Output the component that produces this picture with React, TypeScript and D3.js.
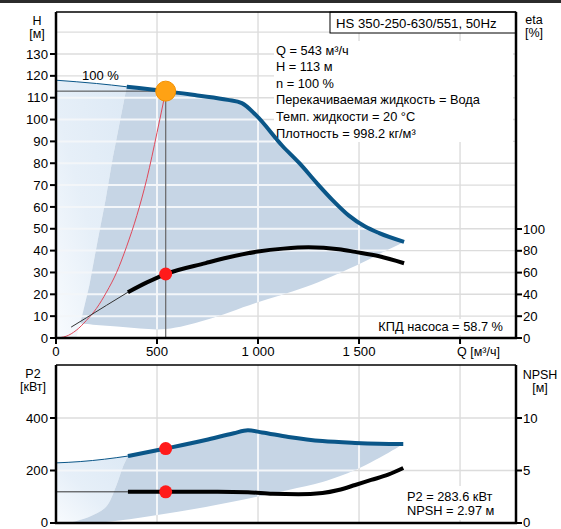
import React from "react";
import * as d3 from "d3";

// ---------- data ----------
// Head curve H(Q)
const hQ = [0, 100, 200, 350, 543, 700, 850, 920, 990, 1120, 1205, 1290, 1370, 1450, 1530, 1600, 1723];
const hH = [118, 117.3, 116.5, 115, 113, 111, 109, 107.5, 102, 88, 80, 71, 63, 56, 51, 48, 44];
// Efficiency eta(Q)
const eQ = [75, 150, 250, 356, 450, 543, 741, 850, 1000, 1125, 1250, 1400, 1481, 1600, 1723];
const eV = [10, 18.5, 30, 42, 51, 58.7, 68.7, 73.8, 79.3, 82, 83.3, 81.5, 79, 75, 68.6];
// System curve
const sQ = [0, 50, 100, 150, 200, 250, 300, 350, 400, 450, 500, 543];
const sH = [0, 0.8, 3.5, 8, 13.5, 21, 30, 42, 56, 73, 94, 113];
// Power P2(Q)
const pQ = [0, 120, 240, 356, 543, 741, 880, 950, 1020, 1151, 1319, 1481, 1600, 1719];
const pV = [229, 234, 243, 255, 283.6, 316, 342, 353, 345, 328, 312, 305, 302, 301];
// NPSH(Q)
const nQ = [0, 356, 543, 800, 950, 1072, 1200, 1319, 1398, 1481, 1560, 1644, 1719];
const nV = [2.97, 2.97, 2.97, 2.97, 2.93, 2.78, 2.74, 2.86, 3.14, 3.62, 4.1, 4.6, 5.24];

// operating-range envelope (top chart)
const topBottomEdge = [[1723, 44], [1644, 40.5], [1481, 33], [1235, 23.3], [988, 16], [741, 8.2], [543, 4.1], [331, 5], [120, 6.6]];
const topLeftEdge = [[120, 6.6], [165, 24], [205, 44], [245, 63], [280, 82], [350, 115]];
// operating-range envelope (bottom chart)
const botRightEdge = [[1719, 301], [1644, 267], [1580, 240], [1481, 202], [1319, 156], [1151, 126], [988, 99], [741, 61], [494, 30], [247, 4], [133, 0]];
const botLeftEdge = [[64, 0], [163, 23], [247, 61], [296, 137], [331, 213], [356, 255]];

const opQ = 543, opH = 113, opEta = 58.7, opP2 = 283.6, opNPSH = 2.97;
const thickStartQ = 350;

const hTicks = [0, 10, 20, 30, 40, 50, 60, 70, 80, 90, 100, 110, 120, 130];
const hGrid = [10, 20, 30, 40, 50, 60, 70, 80, 90, 100, 110, 120, 130, 140];
const etaTicks = [0, 20, 40, 60, 80, 100];
const qTicks = [0, 500, 1000, 1500];
const qTickLabels = ["0", "500", "1 000", "1 500"];
const qGrid = [500, 1000, 1500, 2000];
const pTicks = [0, 200, 400];
const nTicks = [0, 5, 10];

const infoLines = [
  "Q = 543 м³/ч",
  "H = 113 м",
  "n = 100 %",
  "Перекачиваемая жидкость = Вода",
  "Темп. жидкости = 20 °C",
  "Плотность = 998.2 кг/м³",
];

const zip = (a: number[], b: number[]) => a.map((q, i) => [q, b[i]] as [number, number]);

export default function App() {
  const font = "'Liberation Sans', Arial, sans-serif";
  const x = d3.scaleLinear().domain([0, 2277]).range([56, 516]);
  const yH = d3.scaleLinear().domain([0, 130]).range([338, 54]);
  const yE = d3.scaleLinear().domain([0, 100]).range([338, 229]);
  const yP = d3.scaleLinear().domain([0, 400]).range([523, 418]);
  const yN = d3.scaleLinear().domain([0, 10]).range([523, 418]);
  const topY = 12, botTop = 365;
  const L = 56, R = 516, B1 = 338, B2 = 523;

  const mk = (ys: any, curve: any = d3.curveMonotoneX) =>
    d3.line<any>().x((d) => x(d[0])).y((d) => ys(d[1])).curve(curve);

  const hPts = zip(hQ, hH);
  const ePts = zip(eQ, eV);
  const sPts = zip(sQ, sH);
  const pPts = zip(pQ, pV);
  const nPts = zip(nQ, nV);
  const thin = (p: any[], s: number) => p.filter((d) => d[0] <= s);
  const thick = (p: any[], s: number) => p.filter((d) => d[0] >= s);

  const lineH = mk(yH);
  const lineE = mk(yE);
  const lineP = mk(yP);
  const lineN = mk(yN);
  const cr = d3.curveCatmullRom.alpha(0.5);

  const darkTop =
    (lineH(thick(hPts, thickStartQ)) as string) +
    (mk(yH, cr)(topBottomEdge) as string).replace(/^M/, "L") +
    (mk(yH, d3.curveLinear)(topLeftEdge) as string).replace(/^M/, "L") +
    "Z";
  const lightTop =
    (lineH(thin(hPts, thickStartQ)) as string) +
    (mk(yH, d3.curveLinear)([...topLeftEdge].reverse().concat([[100, 0], [0, 0]])) as string).replace(/^M/, "L") +
    "Z";
  const darkBot =
    (lineP(thick(pPts, 356)) as string) +
    (mk(yP, cr)(botRightEdge) as string).replace(/^M/, "L") +
    (mk(yP, cr)(botLeftEdge) as string).replace(/^M/, "L") +
    "Z";
  const lightBot =
    (lineP(thin(pPts, 356)) as string) +
    (mk(yP, cr)([...botLeftEdge].reverse()) as string).replace(/^M/, "L") +
    `L${x(0)},${yP(0)}Z`;

  const blue = "#0a5688";
  const dark = "#c6d5e5";
  const gridGray = "#dcdcdc";
  const gridWhite = "#f3f6f9";
  const tickLen = 6;

  const topGrid = (color: string, w: number) => (
    <>
      {hGrid.map((v) => (
        <line key={"hg" + v + color} x1={L} x2={R} y1={yH(v)} y2={yH(v)} stroke={color} strokeWidth={w} />
      ))}
      {qGrid.map((v) => (
        <line key={"qg" + v + color} x1={x(v)} x2={x(v)} y1={topY} y2={B1} stroke={color} strokeWidth={w} />
      ))}
    </>
  );
  const botGrid = (color: string, w: number) => (
    <>
      {[200, 400].map((v) => (
        <line key={"pg" + v + color} x1={L} x2={R} y1={yP(v)} y2={yP(v)} stroke={color} strokeWidth={w} />
      ))}
      {qGrid.map((v) => (
        <line key={"qg2" + v + color} x1={x(v)} x2={x(v)} y1={botTop} y2={B2} stroke={color} strokeWidth={w} />
      ))}
    </>
  );

  return (
    <svg width={561} height={529} style={{ position: "absolute", left: 0, top: 0, background: "#fff" }} fontFamily={font}>
      <defs>
        <linearGradient id="lg" x1="0" y1="1" x2="1" y2="0">
          <stop offset="0" stopColor="#f8fbfe" />
          <stop offset="0.45" stopColor="#e6eff8" />
          <stop offset="1" stopColor="#dde9f5" />
        </linearGradient>
        <clipPath id="c1"><rect x={L} y={topY} width={R - L} height={B1 - topY} /></clipPath>
        <clipPath id="c2"><rect x={L} y={botTop} width={R - L} height={B2 - botTop} /></clipPath>
        <clipPath id="r1"><path d={darkTop} /><path d={lightTop} /></clipPath>
        <clipPath id="r2"><path d={darkBot} /><path d={lightBot} /></clipPath>
      </defs>
      <rect x={0} y={0} width={561} height={529} fill="#fff" />
      <rect x={0} y={0} width={561} height={3} fill="#2b2b2b" />

      {/* ===== top chart ===== */}
      <g clipPath="url(#c1)">
        {topGrid(gridGray, 1.4)}
        <path d={lightTop} fill="url(#lg)" />
        <path d={darkTop} fill={dark} />
        <g clipPath="url(#r1)">{topGrid(gridWhite, 2)}</g>
      </g>
      {/* title box */}
      <rect x={330} y={topY} width={R - 330} height={21} fill="#fff" stroke="#000" strokeWidth={1} />
      <text x={336} y={28} fontSize={13.2}>HS 350-250-630/551, 50Hz</text>
      {/* info box */}
      <rect x={274} y={41} width={239} height={101} fill="#fff" />
      {infoLines.map((t, i) => (
        <text key={t} x={276} y={54.5 + i * 16.6} fontSize={12.8}>{t}</text>
      ))}
      <rect x={364} y={319} width={143} height={16} fill="#fff" />
      <text x={503} y={331} fontSize={12.8} textAnchor="end">КПД насоса = 58.7 %</text>

      <g clipPath="url(#c1)">
        <path d={mk(yH)(sPts) as string} fill="none" stroke="#e0485a" strokeWidth={1} />
        <line x1={L} x2={x(opQ)} y1={yH(opH)} y2={yH(opH)} stroke="#444" strokeWidth={1} />
        <line x1={x(opQ)} x2={x(opQ)} y1={yH(opH)} y2={B1} stroke="#666" strokeWidth={1.2} />
        <path d={lineH(thin(hPts, thickStartQ)) as string} fill="none" stroke={blue} strokeWidth={1} />
        <path d={lineH(thick(hPts, thickStartQ)) as string} fill="none" stroke={blue} strokeWidth={4} />
        <path d={lineE(thin(ePts, 356)) as string} fill="none" stroke="#333" strokeWidth={1} />
        <path d={lineE(thick(ePts, 356)) as string} fill="none" stroke="#000" strokeWidth={4} />
        <circle cx={x(opQ)} cy={yE(opEta)} r={6.5} fill="#ff1a1a" />
        <circle cx={x(opQ)} cy={yH(opH)} r={10} fill="#ffa214" stroke="#f49000" strokeWidth={1} />
      </g>
      <text x={82} y={80} fontSize={13}>100 %</text>

      {/* top frame and axes */}
      <line x1={L} x2={R} y1={topY} y2={topY} stroke="#000" strokeWidth={1.5} />
      <line x1={L} x2={L} y1={topY} y2={B1} stroke="#000" strokeWidth={2.5} />
      <line x1={R} x2={R} y1={topY} y2={B1} stroke="#000" strokeWidth={2.5} />
      <line x1={L - 1} x2={R + 1} y1={B1} y2={B1} stroke="#000" strokeWidth={2.5} />
      {hTicks.map((v) => (
        <g key={"ht" + v}>
          <line x1={L - tickLen} x2={L} y1={yH(v)} y2={yH(v)} stroke="#000" strokeWidth={2} />
          <text x={48} y={yH(v) + 4.6} fontSize={13.2} textAnchor="end">{v}</text>
        </g>
      ))}
      {etaTicks.map((v) => (
        <g key={"et" + v}>
          <line x1={R} x2={R + tickLen} y1={yE(v)} y2={yE(v)} stroke="#000" strokeWidth={2} />
          <text x={523} y={yE(v) + 4.6} fontSize={13.2}>{v}</text>
        </g>
      ))}
      {qTicks.map((v, i) => (
        <g key={"qt" + v}>
          <line x1={x(v)} x2={x(v)} y1={B1} y2={B1 + tickLen} stroke="#000" strokeWidth={2} />
          <text x={x(v)} y={356} fontSize={13.2} textAnchor="middle">{qTickLabels[i]}</text>
        </g>
      ))}
      <line x1={x(2000)} x2={x(2000)} y1={B1} y2={B1 + tickLen} stroke="#000" strokeWidth={2} />
      <text x={457} y={356} fontSize={12.5}>Q [м³/ч]</text>
      <text x={37} y={25} fontSize={12.5} textAnchor="middle">H</text>
      <text x={37} y={38} fontSize={12.5} textAnchor="middle">[м]</text>
      <text x={534} y={24} fontSize={12.5} textAnchor="middle">eta</text>
      <text x={534} y={37} fontSize={12.5} textAnchor="middle">[%]</text>

      {/* ===== bottom chart ===== */}
      <g clipPath="url(#c2)">
        {botGrid(gridGray, 1.4)}
        <path d={lightBot} fill="url(#lg)" />
        <path d={darkBot} fill={dark} />
        <g clipPath="url(#r2)">{botGrid(gridWhite, 2)}</g>
      </g>
      <rect x={404} y={486} width={106} height={34} fill="#fff" />
      <text x={407} y={500.5} fontSize={12.8}>P2 = 283.6 кВт</text>
      <text x={407} y={514.5} fontSize={12.8}>NPSH = 2.97 м</text>
      <g clipPath="url(#c2)">
        <path d={lineP(thin(pPts, 356)) as string} fill="none" stroke={blue} strokeWidth={1} />
        <path d={lineP(thick(pPts, 356)) as string} fill="none" stroke={blue} strokeWidth={4} />
        <path d={lineN(thin(nPts, 356)) as string} fill="none" stroke="#333" strokeWidth={1} />
        <path d={lineN(thick(nPts, 356)) as string} fill="none" stroke="#000" strokeWidth={4} />
        <circle cx={x(opQ)} cy={yP(opP2)} r={6.5} fill="#ff1a1a" />
        <circle cx={x(opQ)} cy={yN(opNPSH)} r={6.5} fill="#ff1a1a" />
      </g>
      <line x1={L} x2={R} y1={botTop} y2={botTop} stroke="#000" strokeWidth={1.5} />
      <line x1={L} x2={L} y1={botTop} y2={B2} stroke="#000" strokeWidth={2.5} />
      <line x1={R} x2={R} y1={botTop} y2={B2} stroke="#000" strokeWidth={2.5} />
      <line x1={L - 1} x2={R + 1} y1={B2} y2={B2} stroke="#000" strokeWidth={2.5} />
      {pTicks.map((v) => (
        <g key={"pt" + v}>
          <line x1={L - tickLen} x2={L} y1={yP(v)} y2={yP(v)} stroke="#000" strokeWidth={2} />
          <text x={48} y={Math.min(yP(v) + 4.6, 526.5)} fontSize={13.2} textAnchor="end">{v}</text>
        </g>
      ))}
      {nTicks.map((v) => (
        <g key={"nt" + v}>
          <line x1={R} x2={R + tickLen} y1={yN(v)} y2={yN(v)} stroke="#000" strokeWidth={2} />
          <text x={523} y={Math.min(yN(v) + 4.6, 526.5)} fontSize={13.2}>{v}</text>
        </g>
      ))}
      <text x={33} y={378} fontSize={12.5} textAnchor="middle">P2</text>
      <text x={33} y={391} fontSize={12.5} textAnchor="middle">[кВт]</text>
      <text x={540} y={379} fontSize={12.5} textAnchor="middle">NPSH</text>
      <text x={540} y={392} fontSize={12.5} textAnchor="middle">[м]</text>
    </svg>
  );
}
